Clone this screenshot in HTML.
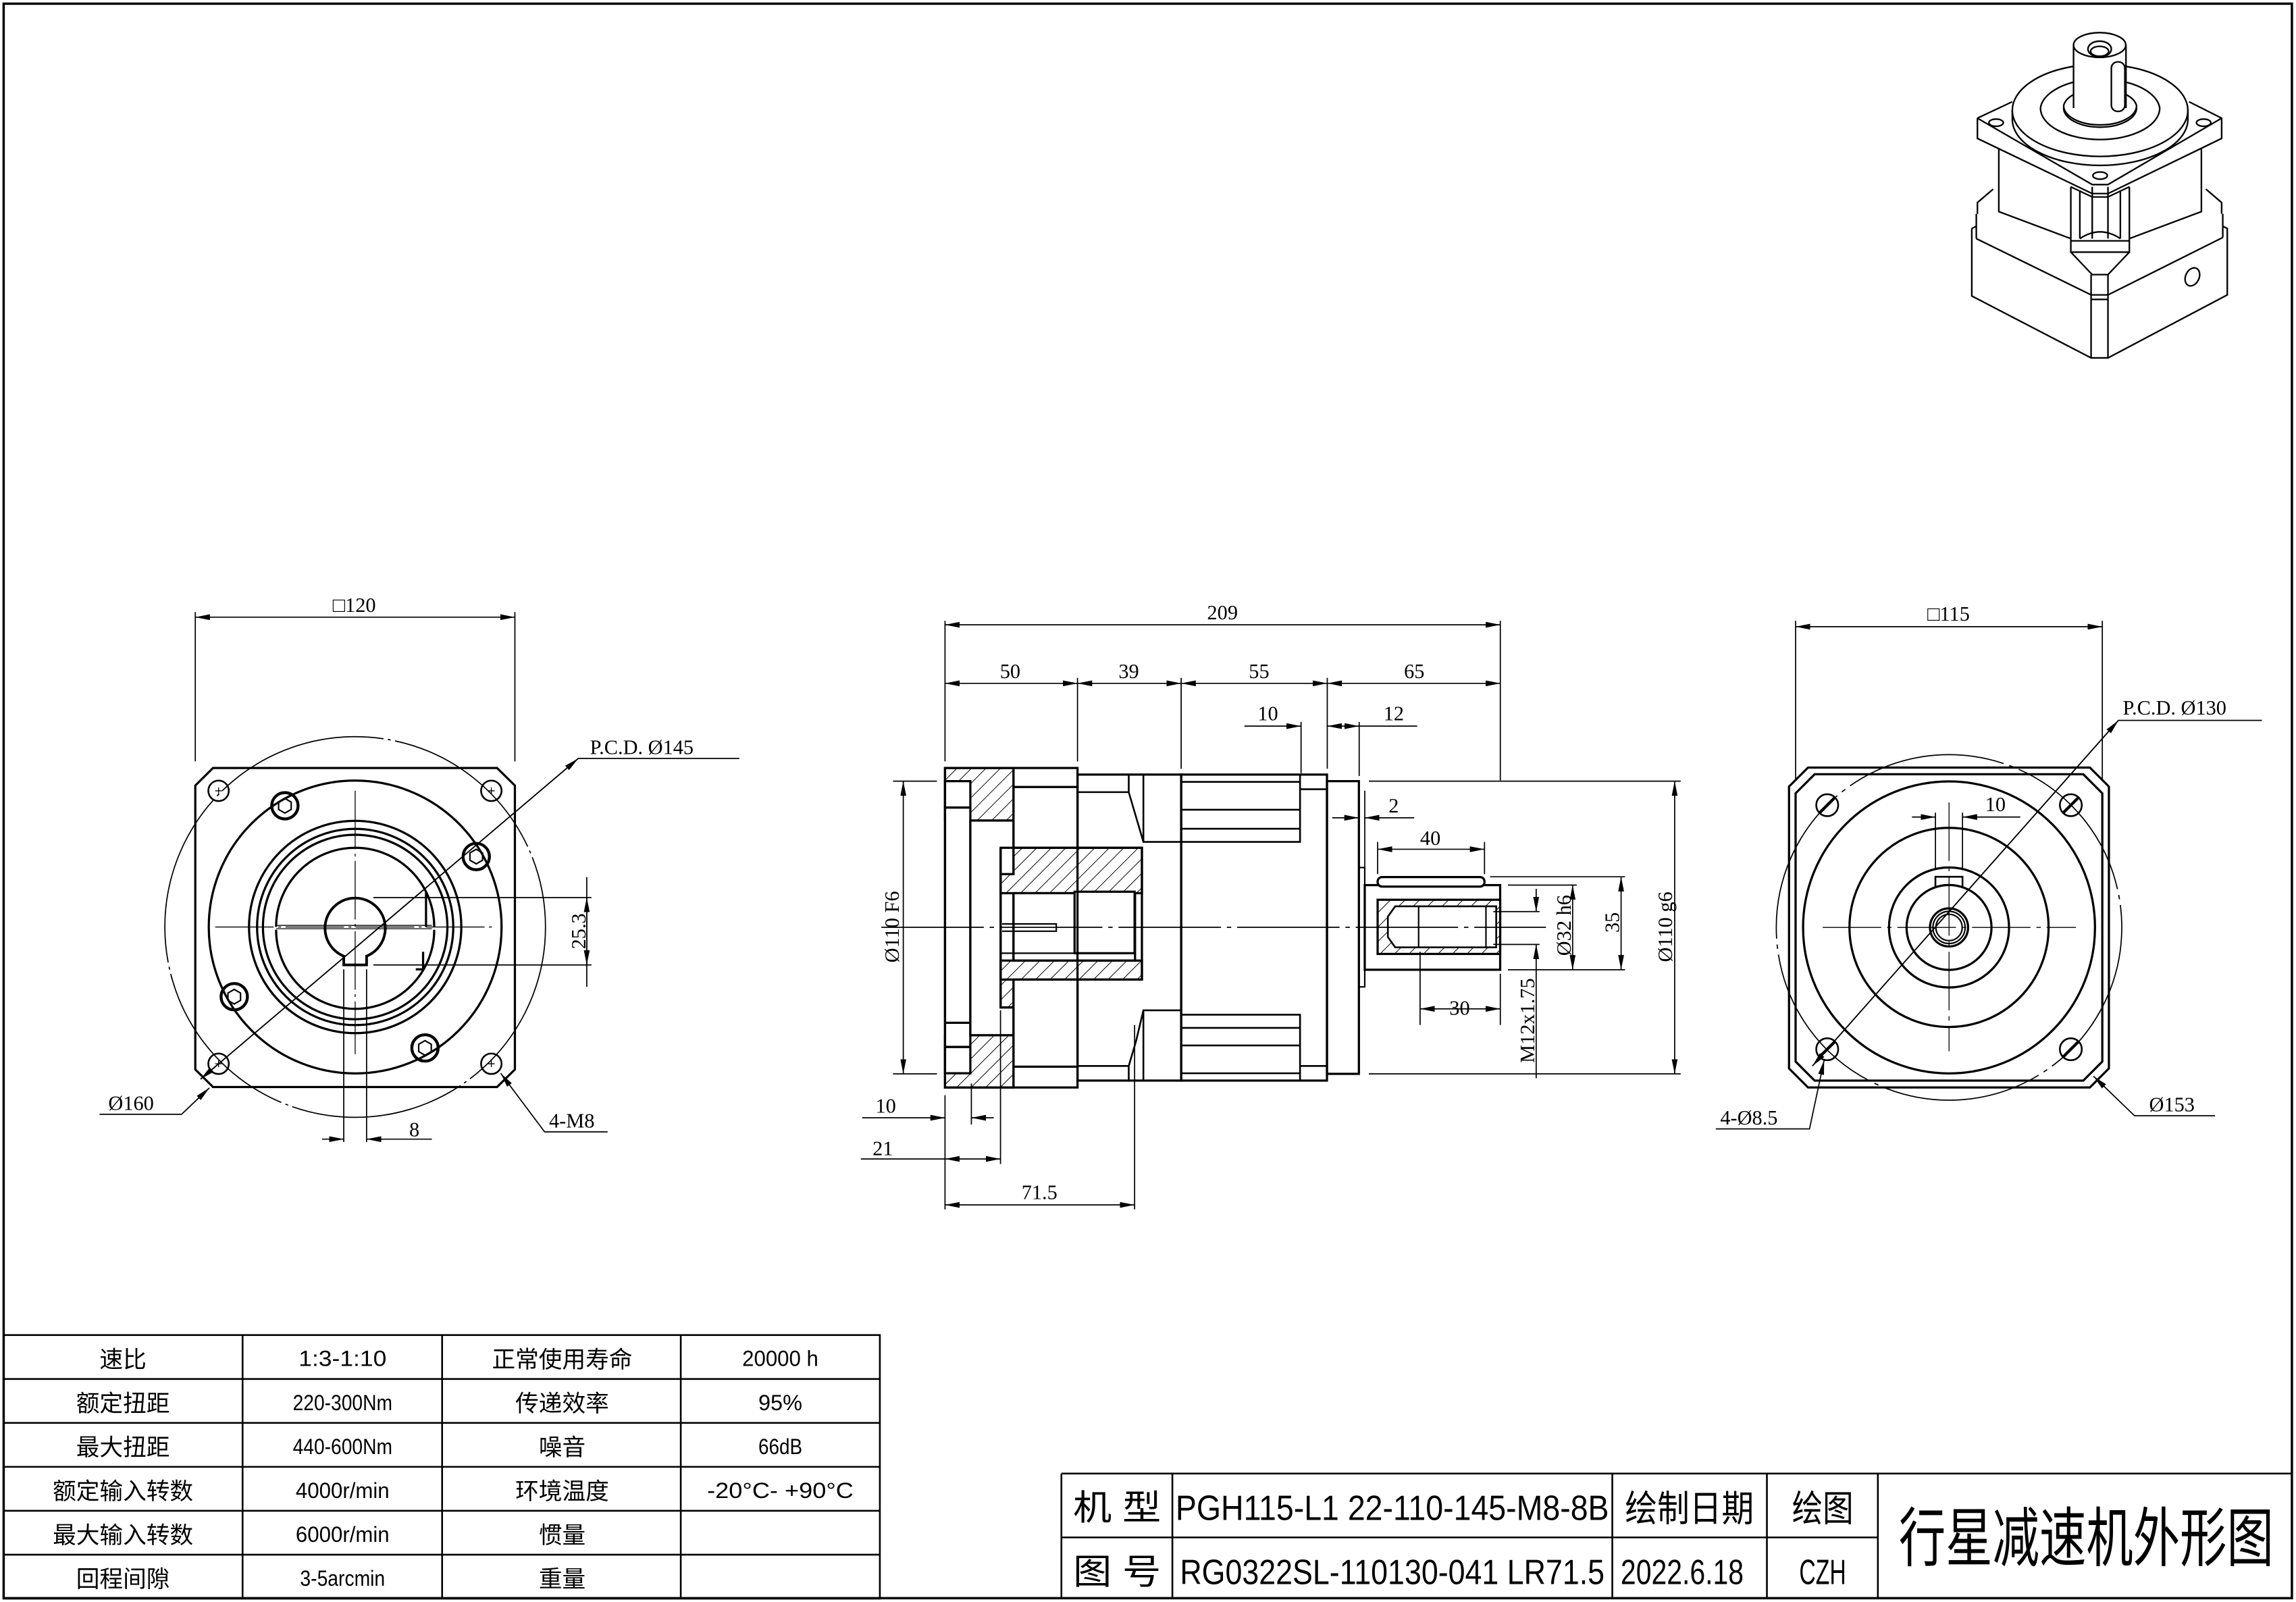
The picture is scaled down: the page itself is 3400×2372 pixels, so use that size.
<!DOCTYPE html>
<html><head><meta charset="utf-8"><style>
html,body{margin:0;padding:0;background:#fff}
svg{display:block}
text{font-family:"Liberation Serif","Noto Serif CJK SC",serif;fill:#000}
.cn text{font-family:"Liberation Sans","Noto Sans CJK SC",sans-serif}
</style></head><body>
<svg xmlns="http://www.w3.org/2000/svg" width="3400" height="2372" viewBox="0 0 1568.3 1094.1">
<defs>
<pattern id="h" patternUnits="userSpaceOnUse" width="7" height="7" patternTransform="rotate(45)">
<rect width="7" height="7" fill="#fff"/><line x1="0" y1="0" x2="0" y2="7" stroke="#000" stroke-width="0.9"/></pattern>
<marker id="a" viewBox="0 0 10 4" refX="10" refY="2" markerWidth="10" markerHeight="4" markerUnits="userSpaceOnUse" orient="auto-start-reverse"><path d="M0,0L10,2L0,4z" fill="#000"/></marker>
</defs>
<rect x="2.5" y="2.5" width="1563" height="1089" fill="none" stroke="#000" stroke-width="1.6"/>

<g fill="none" stroke="#000" stroke-width="0.8">
<!-- ============ LEFT VIEW ============ -->
<g stroke-width="1.5">
<path d="M145.5,524.5H339.5L351.7,536.5V730.4L339.5,742.4H145.5L133.4,730.4V536.5Z"/>
<circle cx="242.6" cy="633.1" r="100"/>
<circle cx="242.6" cy="633.1" r="72.5"/>
<circle cx="242.6" cy="633.1" r="67"/>
<circle cx="242.6" cy="633.1" r="63"/>
<path d="M188.6,633 A54,54 0 0 1 296.6,633 M296.6,635 A54,54 0 0 1 188.6,635"/>
<path d="M234.8,659 V653 A20.6,20.6 0 1 1 250.4,653 V659 Z" fill="#fff" stroke-width="1.8"/>
<path d="M291,609V633M289,650V662h-5"/>
</g>
<circle cx="242.6" cy="633.1" r="130" stroke-dasharray="120 3 2 3"/>
<path d="M188.6,632H295M188.6,634.3H295" stroke-width="0.6"/>
<g stroke-width="1.2">
<circle cx="149.3" cy="540.1" r="7"/><circle cx="335.6" cy="540.1" r="7"/>
<circle cx="149.3" cy="726.5" r="7"/><circle cx="335.6" cy="726.5" r="7"/>
</g>
<g stroke-width="2">
<circle cx="194.6" cy="550.3" r="9"/><circle cx="325.3" cy="585" r="9"/>
<circle cx="160" cy="680.7" r="9"/><circle cx="290.3" cy="715.7" r="9"/>
</g>
<g stroke-width="1">
<path d="M194.6,545.3l4.3,2.5v5l-4.3,2.5l-4.3,-2.5v-5z"/>
<path d="M325.3,580l4.3,2.5v5l-4.3,2.5l-4.3,-2.5v-5z"/>
<path d="M160,675.7l4.3,2.5v5l-4.3,2.5l-4.3,-2.5v-5z"/>
<path d="M290.3,710.7l4.3,2.5v5l-4.3,2.5l-4.3,-2.5v-5z"/>
</g>
<path d="M147,540.1h4.6M149.3,537.8v4.6M333.3,540.1h4.6M335.6,537.8v4.6M147,726.5h4.6M149.3,724.2v4.6M333.3,726.5h4.6M335.6,724.2v4.6" stroke-width="0.6"/>
<path d="M147,633.1H338" stroke-dasharray="40 3 2 3" stroke-width="0.6"/>
<path d="M242.6,540V720" stroke-dasharray="40 3 2 3" stroke-width="0.6"/>
<path d="M133.4,418V520M351.7,418V520"/>
<path d="M133.4,421.5H351.7" marker-start="url(#a)" marker-end="url(#a)"/>
<path d="M137,737L395,518H505"/>
<path d="M137,737L395,518" marker-start="url(#a)" marker-end="url(#a)"/>
<path d="M255,613H404M255,659H404"/>
<path d="M400.8,599V659" marker-end="url(#a)"/>
<path d="M400.8,674V613" marker-end="url(#a)"/>
<path d="M234.8,662V780M250.4,662V780"/>
<path d="M220,778H234.8" marker-end="url(#a)"/>
<path d="M295,778H250.4" marker-end="url(#a)"/>
<path d="M68,761H124L143,743" marker-end="url(#a)"/>
<path d="M415,773H372L342,733" marker-end="url(#a)"/>
</g>
<g font-size="14">
<text x="242" y="418" text-anchor="middle">□120</text>
<text x="403" y="515">P.C.D.  Ø145</text>
<text x="396" y="640" text-anchor="middle" transform="rotate(-90 396 636)">25.3</text>
<text x="283" y="776" text-anchor="middle">8</text>
<text x="74" y="758">Ø160</text>
<text x="375" y="770">4-M8</text>
</g>

<!-- ============ MIDDLE VIEW ============ -->
<g fill="none" stroke="#000" stroke-width="1.5">
<rect x="645.5" y="524.5" width="46.8" height="35.9" fill="url(#h)"/>
<rect x="645.5" y="707" width="46.8" height="35.7" fill="url(#h)"/>
<rect x="645.5" y="533.5" width="17.3" height="18" fill="#fff"/>
<rect x="645.5" y="715" width="17.3" height="18" fill="#fff"/>
<rect x="645.5" y="551.5" width="17.3" height="163.5" fill="#fff"/>
<rect x="662.8" y="560.4" width="29.5" height="146.6" fill="#fff"/>
<rect x="645.5" y="524.5" width="90.5" height="218.2"/>
<path d="M692.3,524.5V742.7M692.3,537.5H736M692.3,728.5H736M645.5,551.5H662.8M645.5,698.5H662.8"/>
<path d="M683.5,579V610H780V579H692.3V597H683.5Z" fill="url(#h)"/>
<path d="M683.5,656V688H692.3V669H780V656Z" fill="url(#h)"/>
<rect x="683.5" y="579" width="96.5" height="90" fill="none"/>
<path d="M683.5,579V688H692.3V669"/>
<rect x="692.3" y="610" width="83" height="46" fill="#fff"/>
<rect x="734" y="609" width="41" height="42" fill="#fff"/>
<path d="M683.5,610H734M683.5,651H734" stroke-width="1"/>
<path d="M684.5,631h37v5h-37" stroke-width="1"/>
<rect x="736" y="529" width="70.8" height="209"/>
<path d="M736,541H771L776,558L781,575H806.8M736,728H771L776,711L781,690H806.8M771,529V541M771,728V738M781,575V529M781,690V738" stroke-width="1.2"/>
<rect x="806.8" y="529" width="99.6" height="209"/>
<path d="M806.8,534H888M806.8,553H888M806.8,566H888M806.8,575H888V529M806.8,693H888V738M806.8,702H888M806.8,714H888M806.8,733H888" stroke-width="1.2"/>
<path d="M888,539H906.4M888,728H906.4" stroke-width="1.2"/>
<rect x="906.4" y="533.5" width="21.8" height="199.9"/>
<rect x="928.2" y="592.5" width="4" height="81.5" stroke-width="1"/>
<rect x="932.2" y="604.5" width="92.5" height="57.8"/>
<rect x="941" y="599" width="73" height="6.5" rx="3" fill="#fff"/>
<rect x="941" y="614.5" width="83.7" height="37" fill="url(#h)"/>
<path d="M953,619H1022V647H953L948,640V626Z" fill="#fff" stroke-width="1.2"/>
<path d="M969,619V647M1015,619V647" stroke-width="1"/>
</g>
<g fill="none" stroke="#000" stroke-width="0.8">
<path d="M602,633.3H1056" stroke-dasharray="70 4 3 4"/>
<path d="M645.5,424V520M1024.8,424V533M736,463V520M806.8,463V525M906.6,463V525M888.7,493V528M928.4,493V530"/>
<path d="M645.5,426.7H1024.8" marker-start="url(#a)" marker-end="url(#a)"/>
<path d="M645.5,466.7H736" marker-start="url(#a)" marker-end="url(#a)"/>
<path d="M736,466.7H806.8" marker-start="url(#a)" marker-end="url(#a)"/>
<path d="M806.8,466.7H906.6" marker-start="url(#a)" marker-end="url(#a)"/>
<path d="M906.6,466.7H1024.8" marker-start="url(#a)" marker-end="url(#a)"/>
<path d="M850,495.9H888.7" marker-end="url(#a)"/>
<path d="M928.4,495.9H906.6" marker-start="url(#a)" marker-end="url(#a)"/>
<path d="M928.4,495.9H968"/>
<path d="M932.2,540V598"/>
<path d="M910,558.5H928.2" marker-end="url(#a)"/>
<path d="M966,558.5H932.2" marker-end="url(#a)"/>
<path d="M941,575V597M1014,575V597"/>
<path d="M941,580H1014" marker-start="url(#a)" marker-end="url(#a)"/>
<path d="M970,650V700M1024.8,665V700"/>
<path d="M970,689H1024.8" marker-start="url(#a)" marker-end="url(#a)"/>
<path d="M610,533.5H640M610,733.4H640"/>
<path d="M617,533.5V733.4" marker-start="url(#a)" marker-end="url(#a)"/>
<path d="M935,733.4H1148M935,533.5H1148"/>
<path d="M1143.9,533.5V733.4" marker-start="url(#a)" marker-end="url(#a)"/>
<path d="M1017.8,598.8H1110M1030,662.3H1110M1030,604.5H1077"/>
<path d="M1107.3,598.8V662.3" marker-start="url(#a)" marker-end="url(#a)"/>
<path d="M1074.2,604.5V662.3" marker-start="url(#a)" marker-end="url(#a)"/>
<path d="M1020,622.6H1051.6M1020,645H1051.6"/>
<path d="M1049.3,607V622.6" marker-end="url(#a)"/>
<path d="M1049.3,736.4V645" marker-end="url(#a)"/>
<path d="M645.5,748V826M663.5,740V768M683.4,690V795M775,700V826"/>
<path d="M588.9,763.4H645.5" marker-end="url(#a)"/>
<path d="M678.8,763.4H663.5" marker-end="url(#a)"/>
<path d="M588,791.5H645.5"/>
<path d="M645.5,791.5H683.4" marker-start="url(#a)" marker-end="url(#a)"/>
<path d="M645.5,822.9H775" marker-start="url(#a)" marker-end="url(#a)"/>
</g>
<g font-size="14" text-anchor="middle">
<text x="835" y="423">209</text>
<text x="690" y="463">50</text>
<text x="771" y="463">39</text>
<text x="860" y="463">55</text>
<text x="966" y="463">65</text>
<text x="866" y="492">10</text>
<text x="952" y="492">12</text>
<text x="952" y="555">2</text>
<text x="977" y="577">40</text>
<text x="997" y="693">30</text>
<text x="605" y="760">10</text>
<text x="603" y="789">21</text>
<text x="710" y="819">71.5</text>
<text x="610" y="637" transform="rotate(-90 610 633)">Ø110 F6</text>
<text x="1138" y="637" transform="rotate(-90 1138 633)">Ø110 g6</text>
<text x="1102" y="634" transform="rotate(-90 1102 630)">35</text>
<text x="1069" y="636" transform="rotate(-90 1069 632)">Ø32 h6</text>
<text x="1044" y="701" transform="rotate(-90 1044 697)">M12x1.75</text>
</g>

<!-- ============ RIGHT VIEW ============ -->
<g fill="none" stroke="#000" stroke-width="1.5">
<path d="M1235,524.2H1427.5L1440.5,537.2V729.7L1427.5,742.7H1235L1222,729.7V537.2Z"/>
<path d="M1239.5,528.8H1423L1436,541.8V725L1423,738H1239.5L1226.5,725V541.8Z"/>
<circle cx="1331.3" cy="633.4" r="99.7"/>
<circle cx="1331.3" cy="633.4" r="68"/>
<circle cx="1331.3" cy="633.4" r="41"/>
<circle cx="1331.3" cy="633.4" r="29"/>
<circle cx="1331.3" cy="633.4" r="13"/>
<circle cx="1331.3" cy="633.4" r="11" stroke-width="1"/>
<circle cx="1331.3" cy="633.4" r="9" stroke-width="1"/>
<path d="M1322,605.4V598.8H1340.5V605.4" stroke-width="1.2"/>
</g>
<g fill="none" stroke="#000" stroke-width="1.2">
<circle cx="1248.1" cy="549.9" r="7.5"/><circle cx="1414.5" cy="549.9" r="7.5"/>
<circle cx="1248.1" cy="716.6" r="7.5"/><circle cx="1414.5" cy="716.6" r="7.5"/>
<path d="M1243,555l10,-10M1409.4,555l10,-10M1243,721.7l10,-10M1409.4,721.7l10,-10" stroke-width="2"/>
</g>
<g fill="none" stroke="#000" stroke-width="0.8">
<circle cx="1331.3" cy="633.4" r="118" stroke-dasharray="110 4 3 4"/>
<path d="M1245,633.4H1418" stroke-dasharray="40 4 3 4" stroke-width="0.6"/>
<path d="M1331.3,548V718" stroke-dasharray="40 4 3 4" stroke-width="0.6"/>
<path d="M1322,555V594M1340.5,555V594"/>
<path d="M1306,558H1322" marker-end="url(#a)"/>
<path d="M1380,558H1340.5" marker-end="url(#a)"/>
<path d="M1226.5,424V533M1436,424V533"/>
<path d="M1226.5,428H1436" marker-start="url(#a)" marker-end="url(#a)"/>
<path d="M1545,492H1447L1238,728"/>
<path d="M1238,728L1447,492" marker-start="url(#a)" marker-end="url(#a)"/>
<path d="M1172,771H1236L1246,724" marker-end="url(#a)"/>
<path d="M1513,762H1458L1430,735" marker-end="url(#a)"/>
</g>
<g font-size="14">
<text x="1331" y="424" text-anchor="middle">□115</text>
<text x="1450" y="488">P.C.D.  Ø130</text>
<text x="1356" y="554">10</text>
<text x="1175" y="768">4-Ø8.5</text>
<text x="1468" y="759">Ø153</text>
</g>

<!-- ============ 3D VIEW ============ -->
<g transform="translate(1328.4,9.2) scale(0.15375)" fill="none" stroke="#000" stroke-width="7">
<path d="M120,955V1255L650,1530H725L1255,1250V955L1235,945"/>
<path d="M140,945L120,955M140,1000L650,1250H725L1235,995M140,1000V890M1235,995V890"/>
<path d="M650,1160V1530M725,1160V1530M650,1270H725"/>
<path d="M145,890V840L215,780M1230,890V840L1160,780"/>
<path d="M240,600V880L560,1000M1140,600V880L820,1000"/>
<path d="M560,1000V1060H820V1000M560,1010H820"/>
<path d="M560,770V1000M820,770V1000M600,785V1000M780,785V1000M655,770V1000M725,770V1000M560,770L655,815H725L820,770"/>
<path d="M600,1000Q690,940 780,1000"/>
<path d="M560,1060L655,1160H725L820,1060"/>
<path d="M145,465V555L655,800H725L1230,555V465L1085,392M145,465L300,392"/>
<path d="M145,465L655,760H725L1230,465"/>
<ellipse cx="228" cy="485" rx="32" ry="16"/><ellipse cx="1150" cy="485" rx="32" ry="16"/><ellipse cx="690" cy="720" rx="32" ry="16"/>
<path d="M300,430V470A390,205 0 0 0 1080,470V430"/>
<path d="M300,430A390,205 0 0 1 570,235M805,235A390,205 0 0 1 1080,430A390,205 0 0 1 300,430"/>
<path d="M425,420A265,140 0 0 0 955,420A265,140 0 0 0 805,305M572,305A265,140 0 0 0 425,420"/>
<path d="M528,410A162,85 0 0 0 852,410A162,85 0 0 0 805,360M572,360A162,85 0 0 0 528,410"/>
<path d="M528,420A162,85 0 0 0 852,420"/>
<path d="M572,140V420M805,140V420"/>
<ellipse cx="688" cy="140" rx="116" ry="55" fill="#fff"/>
<ellipse cx="688" cy="158" rx="52" ry="35"/><ellipse cx="688" cy="168" rx="40" ry="22"/>
<rect x="740" y="215" width="60" height="220" rx="28"/>
<ellipse cx="1100" cy="1170" rx="30" ry="42" transform="rotate(25 1100 1170)"/>
</g>

<!-- ============ PARAMETER TABLE ============ -->
<g fill="none" stroke="#000" stroke-width="1.2">
<rect x="2.5" y="911.8" width="598.5" height="180"/>
<path d="M2.5,941.8H601M2.5,971.8H601M2.5,1001.8H601M2.5,1031.8H601M2.5,1061.8H601"/>
<path d="M165.7,911.8V1091.8M302,911.8V1091.8M465,911.8V1091.8"/>
</g>
<g class="cn" font-size="16" text-anchor="middle">
<text x="84" y="934">速比</text><text x="84" y="964">额定扭距</text><text x="84" y="994">最大扭距</text>
<text x="84" y="1024">额定输入转数</text><text x="84" y="1054">最大输入转数</text><text x="84" y="1084">回程间隙</text>
<text x="384" y="934">正常使用寿命</text><text x="384" y="964">传递效率</text><text x="384" y="994">噪音</text>
<text x="384" y="1024">环境温度</text><text x="384" y="1054">惯量</text><text x="384" y="1084">重量</text>
</g>
<g class="cn" font-size="15" text-anchor="middle">
<text x="234" y="933" textLength="60" lengthAdjust="spacingAndGlyphs">1:3-1:10</text>
<text x="234" y="963" textLength="68" lengthAdjust="spacingAndGlyphs">220-300Nm</text>
<text x="234" y="993" textLength="68" lengthAdjust="spacingAndGlyphs">440-600Nm</text>
<text x="234" y="1023" textLength="64" lengthAdjust="spacingAndGlyphs">4000r/min</text>
<text x="234" y="1053" textLength="64" lengthAdjust="spacingAndGlyphs">6000r/min</text>
<text x="234" y="1083" textLength="58" lengthAdjust="spacingAndGlyphs">3-5arcmin</text>
<text x="533" y="933" textLength="52" lengthAdjust="spacingAndGlyphs">20000 h</text>
<text x="533" y="963" textLength="30" lengthAdjust="spacingAndGlyphs">95%</text>
<text x="533" y="993" textLength="30" lengthAdjust="spacingAndGlyphs">66dB</text>
<text x="533" y="1023" textLength="100" lengthAdjust="spacingAndGlyphs">-20°C- +90°C</text>
</g>

<!-- ============ TITLE BLOCK ============ -->
<g fill="none" stroke="#000" stroke-width="1.2">
<path d="M725,1006.4H1566M725,1006.4V1092M725,1050H1282.7"/>
<path d="M800.8,1006.4V1092M1101.3,1006.4V1092M1206.9,1006.4V1092M1282.7,1006.4V1092"/>
</g>
<g class="cn" text-anchor="middle">
<text x="763" y="1038" font-size="24" textLength="60" lengthAdjust="spacingAndGlyphs">机 型</text>
<text x="763" y="1082" font-size="24" textLength="60" lengthAdjust="spacingAndGlyphs">图 号</text>
<text x="951" y="1038" font-size="24" textLength="296" lengthAdjust="spacingAndGlyphs">PGH115-L1 22-110-145-M8-8B</text>
<text x="951" y="1082" font-size="24" textLength="290" lengthAdjust="spacingAndGlyphs">RG0322SL-110130-041 LR71.5</text>
<text x="1154" y="1039" font-size="25" textLength="88" lengthAdjust="spacingAndGlyphs">绘制日期</text>
<text x="1149" y="1082" font-size="24" textLength="84" lengthAdjust="spacingAndGlyphs">2022.6.18</text>
<text x="1245" y="1039" font-size="25" textLength="42" lengthAdjust="spacingAndGlyphs">绘图</text>
<text x="1245" y="1082" font-size="24" textLength="32" lengthAdjust="spacingAndGlyphs">CZH</text>
<text x="1425" y="1066" font-size="44" textLength="256" lengthAdjust="spacingAndGlyphs">行星减速机外形图</text>
</g>
</svg>
</body></html>
